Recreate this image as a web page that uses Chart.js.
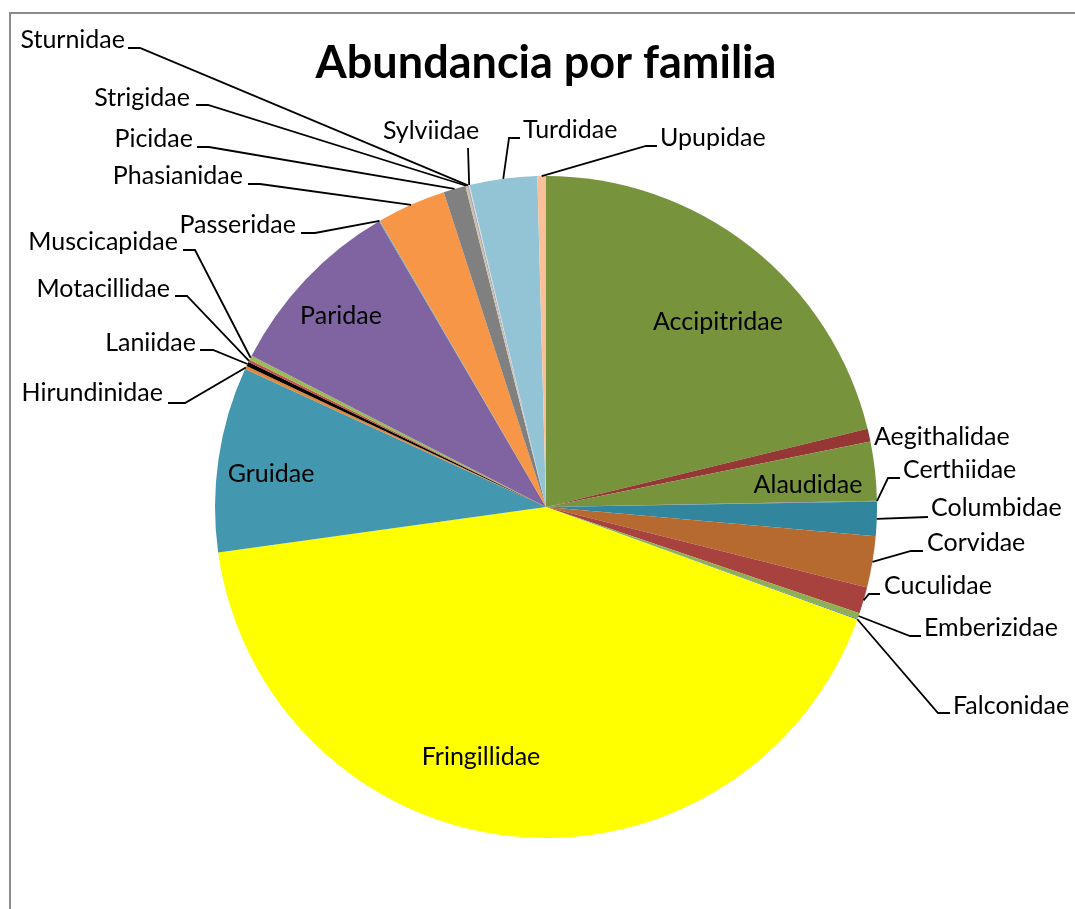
<!DOCTYPE html>
<html>
<head>
<meta charset="utf-8">
<script src="https://cdn.jsdelivr.net/npm/chart.js@4.4.0/dist/chart.umd.min.js"></script>
<style>
  html, body { margin: 0; padding: 0; background: #fff; }
  #wrap { width: 1075px; height: 909px; }
</style>
</head>
<body>
<div id="wrap"><canvas id="pie" width="1075" height="909"></canvas></div>
<script>
// Abundancia por familia - counts
const families = [
    'Accipitridae', 'Aegithalidae', 'Alaudidae', 'Certhiidae', 'Columbidae', 'Corvidae',
    'Cuculidae', 'Emberizidae', 'Falconidae', 'Fringillidae', 'Gruidae', 'Hirundinidae',
    'Laniidae', 'Motacillidae', 'Muscicapidae', 'Paridae', 'Passeridae', 'Phasianidae',
    'Picidae', 'Strigidae', 'Sturnidae', 'Sylviidae', 'Turdidae', 'Upupidae'
];
const counts = [
    509, 15, 69, 1, 40, 60,
    31, 7, 1, 1015, 217, 4,
    5, 3, 5, 217, 1, 81,
    26, 2, 2, 1, 79, 10
];
const sliceColors = [
    '#77933C', '#953735', '#77933C', '#7F7CAA', '#31859C', '#B66A30',
    '#A8423F', '#8EB050', '#4F81BD', '#FFFF00', '#4398B0', '#E3883A',
    '#000000', '#C0504D', '#9BBB59', '#8064A2', '#4BACC6', '#F79646',
    '#808080', '#C9C39A', '#B3A2C7', '#D7E4BD', '#93C4D6', '#FAC09A'
];

const chartTitle = 'Abundancia por familia';
const FONT = 'Lato, "Liberation Sans", sans-serif';

// where each label text sits; knees are the leader line bends from the label side
const labelLayout = {
    Accipitridae: { x: 718, y: 322, inside: true },
    Alaudidae:    { x: 808, y: 485, inside: true },
    Fringillidae: { x: 481, y: 757, inside: true },
    Gruidae:      { x: 271, y: 474, inside: true },
    Paridae:      { x: 341, y: 316, inside: true },

    Aegithalidae: { x: 874, y: 437, align: 'left', knees: null },
    Certhiidae:   { x: 903, y: 470, align: 'left', knees: [[900, 478], [888, 478]] },
    Columbidae:   { x: 931, y: 508, align: 'left', knees: [[928, 517]] },
    Corvidae:     { x: 927, y: 543, align: 'left', knees: [[923, 551], [911, 551]] },
    Cuculidae:    { x: 884, y: 586, align: 'left', knees: [[880, 594], [869, 594]] },
    Emberizidae:  { x: 924, y: 628, align: 'left', knees: [[921, 636], [910, 636]] },
    Falconidae:   { x: 953, y: 706, align: 'left', knees: [[950, 713], [938, 713]] },

    Hirundinidae: { x: 163, y: 393, align: 'right', knees: [[168, 403], [185, 403]] },
    Laniidae:     { x: 196, y: 343, align: 'right', knees: [[200, 350], [213, 350]] },
    Motacillidae: { x: 170, y: 289, align: 'right', knees: [[175, 296], [187, 296]] },
    Muscicapidae: { x: 178, y: 242, align: 'right', knees: [[183, 250], [195, 250]] },
    Passeridae:   { x: 296, y: 225, align: 'right', knees: [[301, 233], [315, 233]] },
    Phasianidae:  { x: 243, y: 176, align: 'right', knees: [[248, 184], [260, 184]] },
    Picidae:      { x: 193, y: 139, align: 'right', knees: [[197, 147], [209, 147]] },
    Strigidae:    { x: 190, y: 98,  align: 'right', knees: [[196, 105], [208, 105]] },
    Sturnidae:    { x: 125, y: 40,  align: 'right', knees: [[128, 48], [140, 48]] },
    Sylviidae:    { x: 431, y: 131, align: 'center', knees: [[468, 148]] },
    Turdidae:     { x: 523, y: 130, align: 'left', knees: [[520, 138], [509, 138]] },
    Upupidae:     { x: 660, y: 138, align: 'left', knees: [[657, 146], [646, 146]] }
};

const familyLabels = {
    id: 'familyLabels',
    beforeDraw(chart) {
        const ctx = chart.ctx;
        ctx.save();
        ctx.fillStyle = '#fff';
        ctx.fillRect(0, 0, chart.width, chart.height);
        // chart area frame, runs off the right and bottom edges
        ctx.strokeStyle = '#8a8a8a';
        ctx.lineWidth = 2;
        ctx.strokeRect(10, 13, chart.width + 20, chart.height + 20);
        ctx.restore();
    },
    afterDatasetsDraw(chart) {
        const ctx = chart.ctx;
        const arcs = chart.getDatasetMeta(0).data;
        ctx.save();

        ctx.fillStyle = '#000';
        ctx.font = 'bold 45px ' + FONT;
        ctx.textAlign = 'center';
        ctx.textBaseline = 'middle';
        ctx.fillText(chartTitle, 546, 63);

        ctx.font = '25px ' + FONT;
        families.forEach((name, i) => {
            const spot = labelLayout[name];
            if (!spot) return;
            const arc = arcs[i].getProps(['x', 'y', 'startAngle', 'endAngle', 'outerRadius'], true);
            const mid = (arc.startAngle + arc.endAngle) / 2;
            const edge = [arc.x + Math.cos(mid) * arc.outerRadius, arc.y + Math.sin(mid) * arc.outerRadius];

            if (!spot.inside && spot.knees) {
                ctx.beginPath();
                ctx.strokeStyle = '#000';
                ctx.lineWidth = 1.8;
                spot.knees.forEach((p, k) => k === 0 ? ctx.moveTo(p[0], p[1]) : ctx.lineTo(p[0], p[1]));
                ctx.lineTo(edge[0], edge[1]);
                ctx.stroke();
            }

            ctx.fillStyle = '#000';
            ctx.textBaseline = 'middle';
            ctx.textAlign = spot.inside ? 'center' : spot.align;
            ctx.fillText(name, spot.x, spot.y);
        });
        ctx.restore();
    }
};

new Chart(document.getElementById('pie'), {
    type: 'pie',
    data: {
        labels: families,
        datasets: [{
            data: counts,
            backgroundColor: sliceColors,
            borderWidth: 0
        }]
    },
    options: {
        responsive: false,
        animation: false,
        layout: {
            padding: { top: 176, bottom: 71, left: 215, right: 198 }
        },
        plugins: {
            legend: { display: false },
            title: { display: false },
            tooltip: { enabled: false }
        }
    },
    plugins: [familyLabels]
});
</script>
</body>
</html>
